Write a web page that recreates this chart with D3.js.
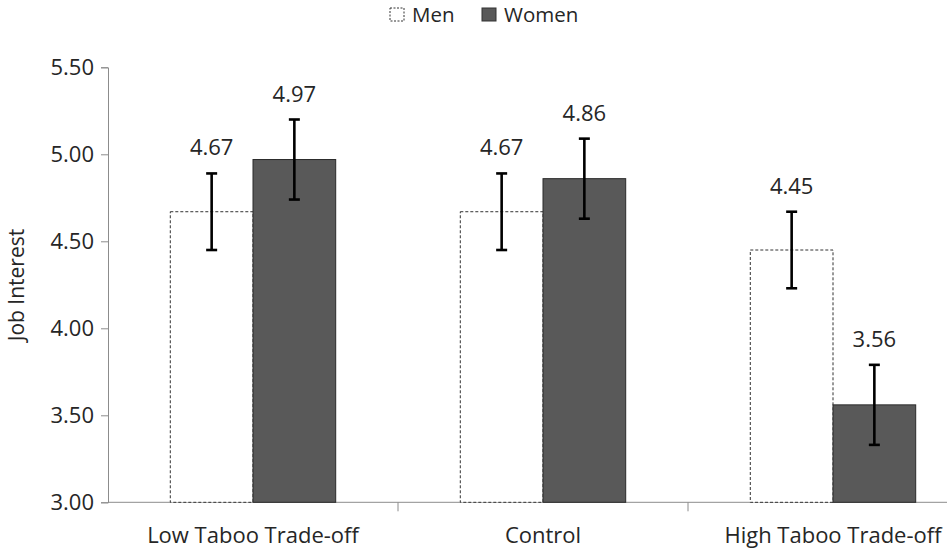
<!DOCTYPE html>
<html>
<head>
<meta charset="utf-8">
<script src="https://cdn.jsdelivr.net/npm/d3@7"></script>
<style>
  body { margin: 0; background: #fff; }
  svg { display: block; font-family: "Open Sans", sans-serif; }
</style>
</head>
<body>
<div id="container"></div>
<script>
// data
const categories = ["Low Taboo Trade-off", "Control", "High Taboo Trade-off"];
const seriesNames = ["Men", "Women"];
const menMeans = [4.67, 4.67, 4.45];
const womenMeans = [4.97, 4.86, 3.56];
const menErrors = [0.22, 0.22, 0.22];
const womenErrors = [0.23, 0.23, 0.23];
const yTicks = [3.00, 3.50, 4.00, 4.50, 5.00, 5.50];
const yTitle = "Job Interest";

const width = 947;
const height = 552;
const marginLeft = 108;
const plotRight = 978; // last category runs past the right edge, like the original
const yTop = 67.3;
const yBottom = 502.3;
const fontSize = 22;

const svg = d3.select("#container")
  .append("svg")
  .attr("width", width)
  .attr("height", height);

const x0 = d3.scaleBand()
  .domain(categories)
  .range([marginLeft, plotRight]);

const x1 = d3.scaleBand()
  .domain(seriesNames)
  .range([62.3, x0.bandwidth() - 62.3]);

const y = d3.scaleLinear()
  .domain([3, 5.5])
  .range([yBottom, yTop]);

// rows for each bar
const rows = [];
categories.forEach((c, i) => {
  rows.push({ cat: c, series: "Men", value: menMeans[i], err: menErrors[i] });
  rows.push({ cat: c, series: "Women", value: womenMeans[i], err: womenErrors[i] });
});

// y axis
const yAxis = svg.append("g")
  .attr("transform", `translate(${marginLeft},0)`)
  .call(d3.axisLeft(y).tickValues(yTicks).tickFormat(d3.format(".2f")).tickSizeOuter(0).tickSize(7).tickPadding(7));
yAxis.select(".domain").attr("stroke", "#8c8c8c");
yAxis.selectAll(".tick line").attr("stroke", "#8c8c8c");
yAxis.selectAll(".tick text")
  .attr("font-size", fontSize)
  .attr("fill", "#262626")
  .attr("font-family", "'Open Sans', sans-serif");

// x axis: ticks at category boundaries
const xAxisG = svg.append("g");
xAxisG.append("line")
  .attr("x1", marginLeft).attr("x2", plotRight)
  .attr("y1", yBottom).attr("y2", yBottom)
  .attr("stroke", "#8c8c8c");
xAxisG.selectAll("line.tick")
  .data(categories.slice(1))
  .enter()
  .append("line")
  .attr("class", "tick")
  .attr("x1", d => x0(d)).attr("x2", d => x0(d))
  .attr("y1", yBottom).attr("y2", yBottom + 9)
  .attr("stroke", "#8c8c8c");
xAxisG.selectAll("text")
  .data(categories)
  .enter()
  .append("text")
  .attr("x", d => x0(d) + x0.bandwidth() / 2)
  .attr("y", 543)
  .attr("text-anchor", "middle")
  .attr("font-size", fontSize)
  .attr("fill", "#262626")
  .text(d => d);

// y title
svg.append("text")
  .attr("transform", `translate(23.5,285) rotate(-90)`)
  .attr("text-anchor", "middle")
  .attr("font-size", 21)
  .attr("fill", "#262626")
  .text(yTitle);

// bars
svg.selectAll("rect.bar")
  .data(rows)
  .enter()
  .append("rect")
  .attr("class", "bar")
  .attr("x", d => x0(d.cat) + x1(d.series))
  .attr("y", d => y(d.value))
  .attr("width", x1.bandwidth())
  .attr("height", d => y(3) - y(d.value))
  .attr("fill", d => d.series === "Men" ? "#ffffff" : "#595959")
  .attr("stroke", d => d.series === "Men" ? "#333" : "#2a2a2a")
  .attr("stroke-width", 1)
  .attr("stroke-dasharray", d => d.series === "Men" ? "3,2" : null);

// error bars
const cap = 5.5;
const eb = svg.selectAll("g.err")
  .data(rows)
  .enter()
  .append("g")
  .attr("class", "err")
  .attr("stroke", "#000")
  .attr("stroke-width", 2.6);
eb.append("line")
  .attr("x1", d => x0(d.cat) + x1(d.series) + x1.bandwidth() / 2)
  .attr("x2", d => x0(d.cat) + x1(d.series) + x1.bandwidth() / 2)
  .attr("y1", d => y(d.value + d.err))
  .attr("y2", d => y(d.value - d.err));
[1, -1].forEach(s => {
  eb.append("line")
    .attr("x1", d => x0(d.cat) + x1(d.series) + x1.bandwidth() / 2 - cap)
    .attr("x2", d => x0(d.cat) + x1(d.series) + x1.bandwidth() / 2 + cap)
    .attr("y1", d => y(d.value + s * d.err))
    .attr("y2", d => y(d.value + s * d.err));
});

// value labels
svg.selectAll("text.val")
  .data(rows)
  .enter()
  .append("text")
  .attr("class", "val")
  .attr("x", d => x0(d.cat) + x1(d.series) + x1.bandwidth() / 2)
  .attr("y", d => y(d.value + d.err) - 18)
  .attr("text-anchor", "middle")
  .attr("font-size", fontSize)
  .attr("fill", "#262626")
  .text(d => d.value.toFixed(2));

// legend
const legend = svg.append("g");
const legendItems = [
  { name: "Men", x: 390 },
  { name: "Women", x: 482 }
];
legend.selectAll("rect")
  .data(legendItems)
  .enter()
  .append("rect")
  .attr("x", d => d.x)
  .attr("y", 8)
  .attr("width", 14)
  .attr("height", 13)
  .attr("fill", d => d.name === "Men" ? "#fff" : "#595959")
  .attr("stroke", "#333")
  .attr("stroke-dasharray", d => d.name === "Men" ? "2,1.5" : null);
legend.selectAll("text")
  .data(legendItems)
  .enter()
  .append("text")
  .attr("x", d => d.x + 22)
  .attr("y", 22)
  .attr("font-size", 20.5)
  .attr("fill", "#262626")
  .text(d => d.name);
</script>
</body>
</html>
